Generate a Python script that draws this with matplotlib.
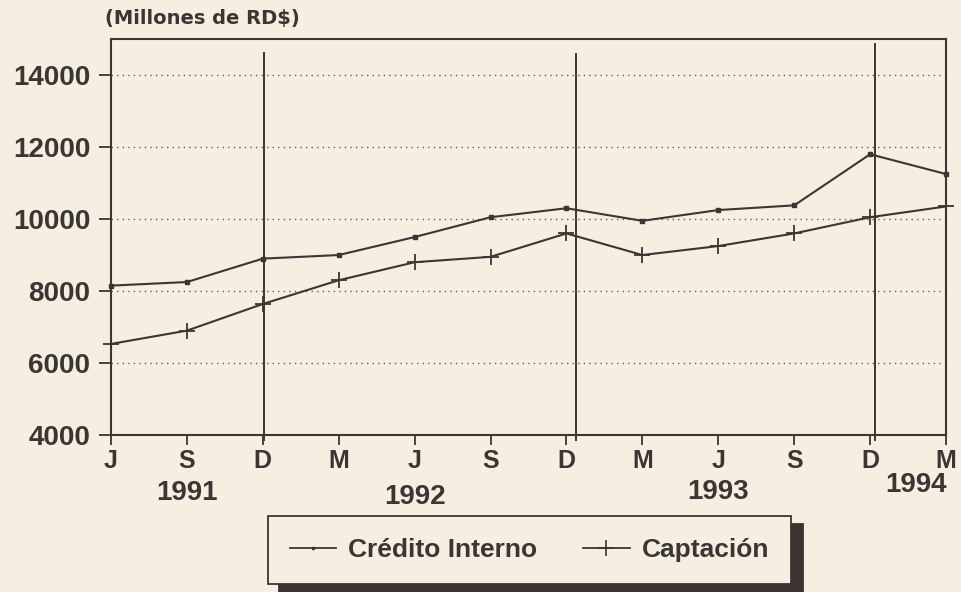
import matplotlib.pyplot as plt
from matplotlib.lines import Line2D

# Data (millones de RD$), quarterly Jun-1991 .. Mar-1994
months = ["J", "S", "D", "M", "J", "S", "D", "M", "J", "S", "D", "M"]
credito = [8150, 8250, 8900, 9000, 9500, 10050, 10300, 9950, 10250, 10380, 11800, 11250]
captacion = [6530, 6900, 7640, 8300, 8800, 8950, 9600, 9000, 9250, 9600, 10050, 10350]
years = ["1991", "1992", "1993", "1994"]
year_x = [1, 4, 8, 10.6]
year_y = [-0.146, -0.157, -0.144, -0.126]
year_breaks = [2.01, 6.13, 10.07]
break_tops = [14600, 14580, 14860]

paper = "#f6eee1"
ink = "#3a3633"

plt.rcParams["font.family"] = ["Liberation Sans", "DejaVu Sans"]
plt.rcParams["font.weight"] = "bold"

fig = plt.figure(figsize=(9.62, 5.92), dpi=100, facecolor=paper)
ax = fig.add_axes([0.1154, 0.2652, 0.868, 0.6688], facecolor=paper)

x = list(range(len(months)))
ax.plot(x, credito, color=ink, lw=1.5, marker="s", ms=3, clip_on=False,
        label="Crédito Interno")
ax.plot(x, captacion, color=ink, lw=1.5, marker="+", ms=11, mew=1.3, clip_on=False,
        label="Captación")

# year separators
for xb, top in zip(year_breaks, break_tops):
    ax.plot([xb, xb], [3850, top], color=ink, lw=1.4, clip_on=False)

ax.set_xlim(0, 11)
ax.set_ylim(4000, 15000)
ax.set_yticks(range(4000, 15000, 2000))
ax.set_xticks(x)
ax.set_xticklabels(months)
ax.tick_params(axis="y", direction="out", length=9, width=1.3, pad=6,
               labelsize=20, colors=ink)
ax.tick_params(axis="x", direction="out", length=7, width=1.3, pad=3,
               labelsize=18, colors=ink)
for s in ax.spines.values():
    s.set_color(ink)
    s.set_linewidth(1.5)

for yv in range(6000, 15000, 2000):
    ax.axhline(yv, color=ink, lw=1.0, ls=(0, (1, 3)), alpha=0.8, zorder=0)

for yr, xv, yv in zip(years, year_x, year_y):
    ax.text(xv, yv, yr, transform=ax.get_xaxis_transform(), ha="center",
            va="center", fontsize=20, color=ink)

fig.text(0.109, 0.969, "(Millones de RD$)", fontsize=14, color=ink, va="center",
         family="DejaVu Sans")

handles = [Line2D([], [], color=ink, lw=1.3, marker="s", ms=2),
           Line2D([], [], color=ink, lw=1.3, marker="+", ms=11, mew=1.2)]
leg = fig.legend(handles, ["Crédito Interno", "Captación"], loc="center",
                 bbox_to_anchor=(0.5504, 0.071), ncol=2, fontsize=19,
                 frameon=True, fancybox=False, borderpad=0.85,
                 handlelength=1.75, handletextpad=0.45, columnspacing=1.75,
                 shadow={"ox": 8.5, "oy": -6, "color": "#3b3330", "alpha": 1})
leg.get_frame().set_facecolor(paper)
leg.get_frame().set_edgecolor(ink)
leg.get_frame().set_linewidth(1.3)
leg.get_frame().set_alpha(1)
for t in leg.get_texts():
    t.set_color(ink)

fig.savefig("out.png", dpi=100, facecolor=paper)
